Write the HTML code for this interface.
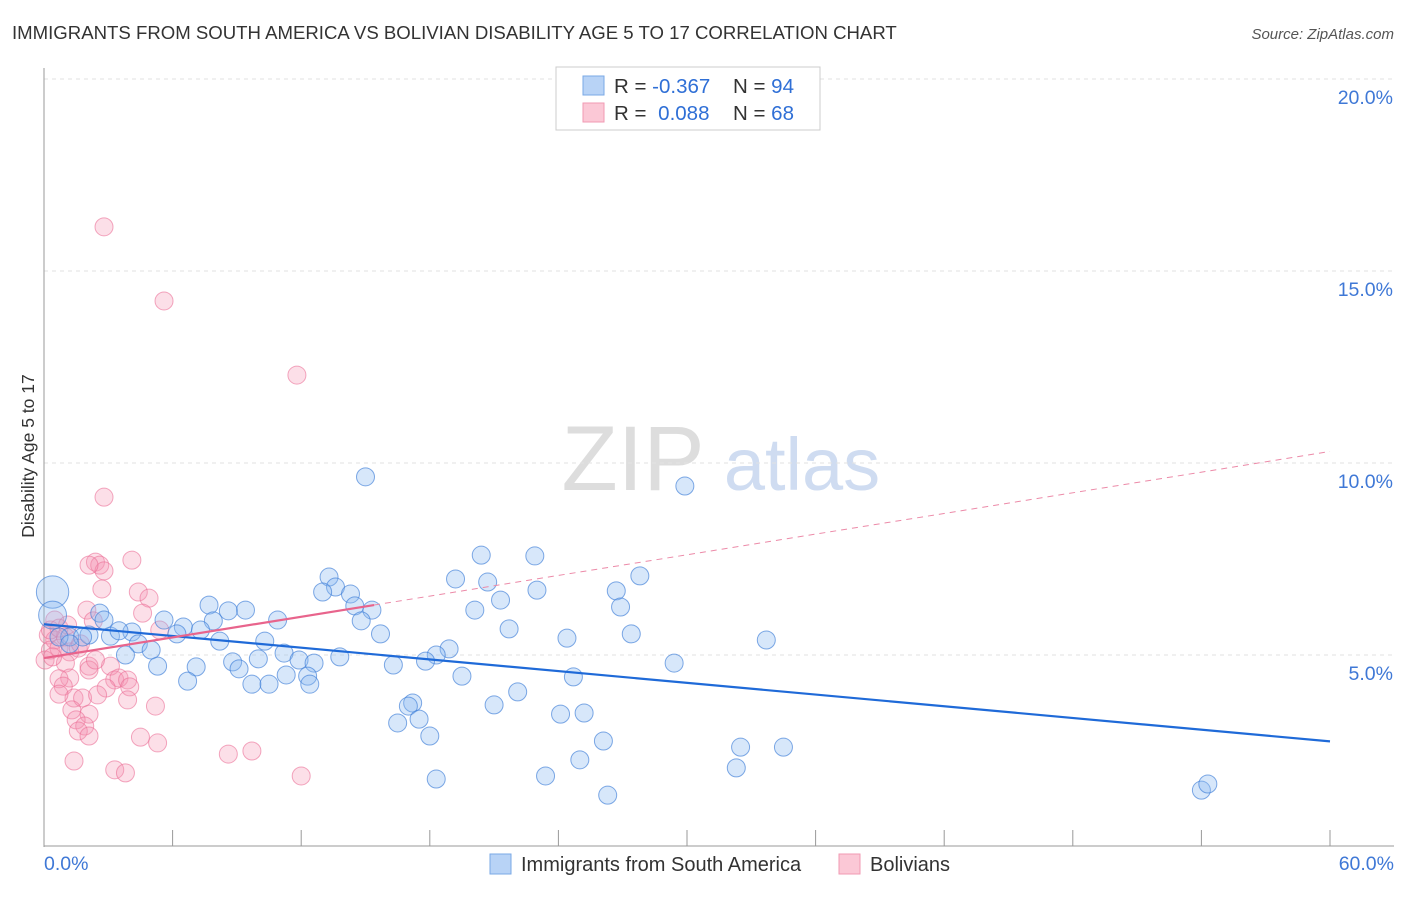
<!DOCTYPE html>
<html><head><meta charset="utf-8"><style>
body{margin:0;background:#fff;font-family:"Liberation Sans",sans-serif;}
svg text{font-family:"Liberation Sans",sans-serif;}
</style></head><body>
<svg id="chart" width="1406" height="892" viewBox="0 0 1406 892" xmlns="http://www.w3.org/2000/svg">
<text x="12" y="39" font-size="18.6" fill="#333">IMMIGRANTS FROM SOUTH AMERICA VS BOLIVIAN DISABILITY AGE 5 TO 17 CORRELATION CHART</text>
<text x="1394" y="39" font-size="15" fill="#555" font-style="italic" text-anchor="end">Source: ZipAtlas.com</text>
<g>
<text x="633" y="490" font-size="92" fill="#ddd" font-family="Liberation Serif" text-anchor="middle">ZIP</text>
<text x="802" y="490" font-size="74" fill="#cfdcf1" text-anchor="middle">atlas</text>
</g>
<g id="grid"></g>
<g id="axes"></g>
<g id="pts"></g>
<g id="lines"></g>
<text transform="translate(34,456) rotate(-90)" font-size="17.5" fill="#333" text-anchor="middle">Disability Age 5 to 17</text>
<g>
<rect x="556" y="67" width="264" height="63" fill="#fff" stroke="#ccc"/>
<rect x="583" y="76" width="21" height="19" fill="#b8d3f6" stroke="#7aa8e6"/>
<rect x="583" y="103" width="21" height="19" fill="#fbc8d6" stroke="#f09ab3"/>
<text x="614" y="93" font-size="20.5" fill="#333">R = <tspan fill="#2f6fd6">-0.367</tspan></text>
<text x="733" y="93" font-size="20.5" fill="#333">N = <tspan fill="#2f6fd6">94</tspan></text>
<text x="614" y="120" font-size="20.5" fill="#333">R = <tspan fill="#2f6fd6" dx="6">0.088</tspan></text>
<text x="733" y="120" font-size="20.5" fill="#333">N = <tspan fill="#2f6fd6">68</tspan></text>
</g>
<g>
<rect x="490" y="854" width="21" height="20" fill="#b8d3f6" stroke="#7aa8e6"/>
<text x="521" y="871" font-size="20" fill="#333">Immigrants from South America</text>
<rect x="839" y="854" width="21" height="20" fill="#fbc8d6" stroke="#f09ab3"/>
<text x="870" y="871" font-size="20" fill="#333">Bolivians</text>
</g>
</svg>
<script>
const xTicks=[0,6,12,18,24,30,36,42,48,54,60];
const yTicks=[5,10,15,20];
const blueX=[15.0,29.9,20.4,22.9,13.3,19.2,20.7,13.6,27.8,13.0,14.3,23.0,26.7,21.3,7.7,9.4,20.1,26.9,14.5,15.3,8.6,2.6,10.9,5.6,7.9,14.8,6.5,7.3,21.7,27.4,15.7,33.7,24.4,4.1,3.1,2.1,1.2,6.2,10.3,8.2,4.4,5.0,3.8,11.2,18.9,18.3,11.9,13.8,10.0,8.8,12.6,17.8,16.3,29.4,5.3,9.1,7.1,11.3,12.3,19.5,24.7,6.7,9.7,10.5,12.4,22.1,21.0,17.2,17.0,17.5,24.1,25.2,16.5,18.0,26.1,32.5,34.5,25.0,32.3,23.4,18.3,26.3,54.0,54.3,0.7,1.8,1.2,2.8,3.5,0.4,0.4];
const blueY=[9.64,9.40,7.60,7.58,7.03,6.98,6.90,6.77,7.06,6.64,6.59,6.69,6.67,6.43,6.30,6.17,6.17,6.25,6.28,6.17,6.15,6.09,5.91,5.91,5.89,5.89,5.73,5.65,5.68,5.55,5.55,5.39,5.44,5.60,5.49,5.52,5.47,5.55,5.36,5.36,5.29,5.13,5.00,5.05,5.16,5.00,4.87,4.95,4.90,4.82,4.79,4.84,4.74,4.79,4.71,4.64,4.69,4.48,4.45,4.45,4.43,4.32,4.24,4.24,4.24,4.04,3.70,3.75,3.67,3.33,3.46,3.49,3.23,2.89,2.76,2.60,2.60,2.27,2.06,1.85,1.77,1.35,1.48,1.64,5.47,5.47,5.29,5.91,5.63,6.64,6.04];
const blueSize=[];for(let i=0;i<blueX.length;i++)blueSize.push(1);blueSize[blueX.length-2]=1.8;blueSize[blueX.length-1]=1.55;
const pinkX=[2.8,5.6,11.8,2.8,2.4,2.6,4.1,2.8,2.1,4.4,2.7,4.9,2.0,4.6,0.5,2.3,5.4,0.2,0.5,1.0,0.3,0.7,1.2,1.6,0.05,1.0,0.4,3.1,2.1,2.1,1.2,0.7,3.3,3.5,3.9,4.0,2.9,0.9,1.4,1.8,3.9,5.2,0.7,1.3,2.1,1.5,1.9,1.6,2.1,4.5,5.3,1.4,3.3,3.8,8.6,9.7,12.0,0.3,0.7,1.7,2.4,1.1,2.5];
const pinkY=[16.15,14.22,12.29,9.11,7.42,7.34,7.47,7.19,7.34,6.64,6.72,6.48,6.17,6.09,5.91,5.89,5.65,5.52,5.39,5.47,5.13,5.18,5.08,5.18,4.87,4.79,4.95,4.71,4.71,4.61,4.40,4.38,4.35,4.40,4.35,4.17,4.14,4.19,3.88,3.88,3.83,3.67,3.98,3.57,3.46,3.31,3.15,3.02,2.89,2.86,2.71,2.24,2.01,1.93,2.42,2.50,1.85,5.65,5.70,5.29,4.87,5.78,3.96];
const blueTrend=[[0,5.8],[60,2.75]];
const pinkTrend=[[0,4.92],[60,10.3]];
const pinkSolidEnd=15.4;
const NS="http://www.w3.org/2000/svg";
const X=v=>44+v*(1330-44)/60;
const Y=v=>847-v*38.4;
function mk(t,a,p){const e=document.createElementNS(NS,t);for(const k in a)e.setAttribute(k,a[k]);p.appendChild(e);return e;}
const grid=document.getElementById('grid'),axes=document.getElementById('axes'),pts=document.getElementById('pts'),lines=document.getElementById('lines');
yTicks.forEach(v=>{
 const l=mk('line',{x1:44,x2:1394,y1:Y(v),y2:Y(v),stroke:'#e2e2e2','stroke-dasharray':'4,4'},grid);
 
 
 const t=mk('text',{x:1393,y:Y(v)+25,'font-size':19.5,fill:'#3f78d6','text-anchor':'end'},axes);
 t.textContent=v.toFixed(1)+'%';
 
 
});
const ya=mk('line',{x1:44,x2:44,y1:68,y2:847,stroke:'#999'},axes);


const xa=mk('line',{x1:44,x2:1394,y1:846,y2:846,stroke:'#999'},axes);


xTicks.forEach(v=>{
 const l=mk('line',{x1:X(v),x2:X(v),y1:830,y2:846,stroke:'#999'},axes);
 
 
});
[[0,'start',44],[60,'end',1394]].forEach(([v,a,x])=>{
 const t=mk('text',{x:x,y:870,'font-size':19.5,fill:'#3f78d6','text-anchor':a},axes);
 t.textContent=v.toFixed(1)+'%';
 
 
});
pinkX.forEach((v,i)=>{
 const c=mk('circle',{cx:X(v),cy:Y(pinkY[i]),r:9,fill:'rgba(245,150,180,0.3)',stroke:'rgba(235,110,150,0.6)','stroke-width':1},pts);
 
 
});
blueX.forEach((v,i)=>{
 const c=mk('circle',{cx:X(v),cy:Y(blueY[i]),r:9*blueSize[i],fill:'rgba(140,185,240,0.35)',stroke:'rgba(60,125,215,0.65)','stroke-width':1},pts);
 
 
});
const bl=mk('line',{x1:X(blueTrend[0][0]),y1:Y(blueTrend[0][1]),x2:X(blueTrend[1][0]),y2:Y(blueTrend[1][1]),stroke:'#1f6ad8','stroke-width':2.2},lines);


const pf=t=>pinkTrend[0][1]+(pinkTrend[1][1]-pinkTrend[0][1])*(t-pinkTrend[0][0])/(pinkTrend[1][0]-pinkTrend[0][0]);
const pd=mk('line',{x1:X(pinkSolidEnd),y1:Y(pf(pinkSolidEnd)),x2:X(pinkTrend[1][0]),y2:Y(pinkTrend[1][1]),stroke:'#ec8aa8','stroke-width':1,'stroke-dasharray':'6,5'},lines);


const ps=mk('line',{x1:X(pinkTrend[0][0]),y1:Y(pinkTrend[0][1]),x2:X(pinkSolidEnd),y2:Y(pf(pinkSolidEnd)),stroke:'#e8648c','stroke-width':2.2},lines);


</script>
</body></html>
